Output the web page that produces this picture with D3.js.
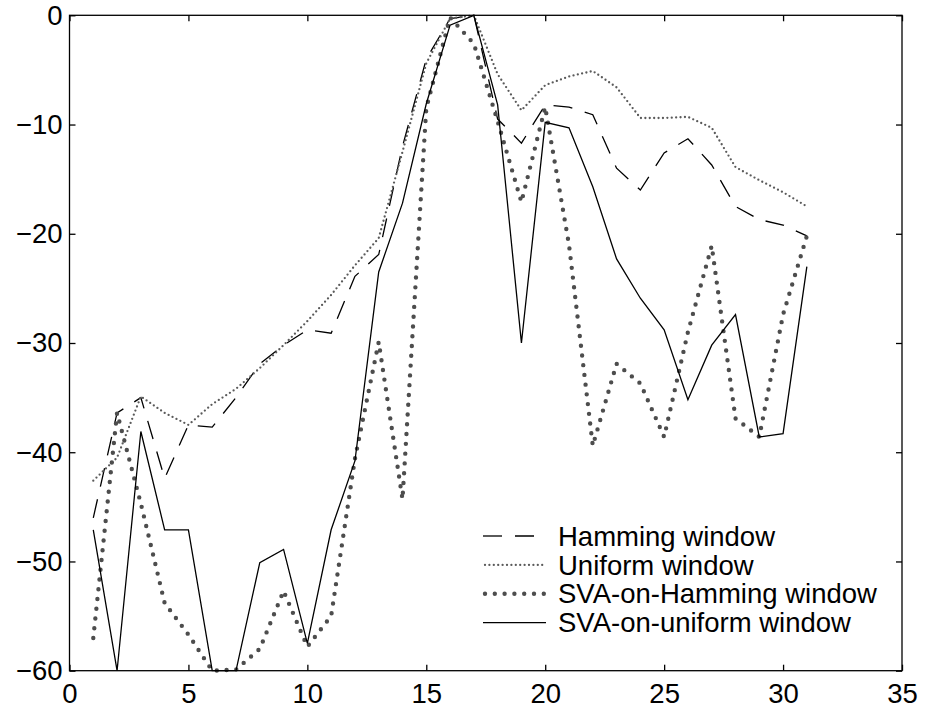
<!DOCTYPE html>
<html>
<head>
<meta charset="utf-8">
<script src="https://cdn.jsdelivr.net/npm/d3@7"></script>
<style>
  body { margin: 0; background: #fff; }
  svg text { font-family: "Liberation Sans", Arial, Helvetica, sans-serif; fill: #000; }
</style>
</head>
<body>
<script>
var width = 927, height = 713;

// sample index (bins 1..31)
var bins = [1,2,3,4,5,6,7,8,9,10,11,12,13,14,15,16,17,18,19,20,21,22,23,24,25,26,27,28,29,30,31];

// responses in dB
var hamming  = [-46, -36.4, -35, -42.4, -37.5, -37.7, -35, -31.9, -30.2, -28.8, -29.1, -23.9, -21.9, -12, -4, -0.3, 0,
                -9.5, -11.7, -8.2, -8.4, -9.1, -14, -16, -12.6, -11.3, -13.7, -17.5, -18.7, -19.2, -20.2];
var uniform  = [-42.6, -40.5, -34.9, -36.4, -37.5, -35.6, -34.2, -32.3, -30.2, -28, -25.6, -22.9, -20.4, -12.5, -4.4, -0.3, 0,
                -5.4, -8.7, -6.4, -5.6, -5.1, -6.6, -9.4, -9.4, -9.3, -10.3, -13.9, -15.1, -16.2, -17.5];
var svaHamming = [-57, -36.4, -44.7, -53.8, -56.7, -60, -59.9, -58, -52.7, -57.8, -55, -40.6, -29.9, -44.3, -8.5, -0.2, -2.6,
                -9.7, -17.1, -8.4, -21, -39.4, -31.9, -33.7, -38.6, -29, -21.1, -36.9, -38.6, -27.4, -20.2];
var svaUniform = [-47.1, -60, -38.1, -47.1, -47.1, -60, -60, -50.1, -48.9, -57.5, -47.1, -40.8, -23.5, -17.2, -8.1, -0.9, 0,
                -8.2, -30, -9.8, -10.3, -15.7, -22.3, -25.9, -28.8, -35.2, -30.2, -27.4, -38.6, -38.3, -23];

var xTicks = [0, 5, 10, 15, 20, 25, 30, 35];
var yTicks = [0, -10, -20, -30, -40, -50, -60];
var labels = ["Hamming window", "Uniform window", "SVA-on-Hamming window", "SVA-on-uniform window"];

window.onload = function(){
  var series = [
    {name: labels[0], values: hamming,    stroke: "#000",    width: 1.3, dash: "19,13", cap: "butt"},
    {name: labels[1], values: uniform,    stroke: "#5a5a5a", width: 2.3, dash: "0,4.4", cap: "round"},
    {name: labels[2], values: svaHamming, stroke: "#4d4d4d", width: 4.4, dash: "0,9.8", cap: "round"},
    {name: labels[3], values: svaUniform, stroke: "#000",    width: 1.3, dash: null,    cap: "butt"}
  ];

  var pl = 69.5, pr = 902, pt = 15.3, pb = 670.7;

  var x = d3.scaleLinear().domain([0, 35]).range([pl, pr]);
  var y = d3.scaleLinear().domain([-60, 0]).range([pb, pt]);

  var svg = d3.select("body").append("svg").attr("width", width).attr("height", height);

  var line = d3.line()
      .x(function(d, i){ return x(bins[i]); })
      .y(function(d){ return y(d); });

  svg.append("clipPath").attr("id", "plotclip")
      .append("rect").attr("x", pl - 3).attr("y", pt - 3)
      .attr("width", pr - pl + 6).attr("height", pb - pt + 6);

  svg.append("g").attr("clip-path", "url(#plotclip)")
    .selectAll("path.series")
    .data(series)
    .enter().append("path")
      .attr("class", "series")
      .attr("d", function(d){ return line(d.values); })
      .attr("fill", "none")
      .attr("stroke", function(d){ return d.stroke; })
      .attr("stroke-width", function(d){ return d.width; })
      .attr("stroke-dasharray", function(d){ return d.dash; })
      .attr("stroke-linecap", function(d){ return d.cap; })
      .attr("stroke-linejoin", "miter");

  // axes, ticks inward on all four sides
  var fs = "27.5px";
  var gx = svg.append("g").attr("transform", "translate(0," + pb + ")")
      .call(d3.axisBottom(x).tickValues(xTicks).tickSize(-6).tickPadding(13));
  var gxt = svg.append("g").attr("transform", "translate(0," + pt + ")")
      .call(d3.axisTop(x).tickValues(xTicks).tickSize(-6).tickFormat(""));
  var gy = svg.append("g").attr("transform", "translate(" + pl + ",0)")
      .call(d3.axisLeft(y).tickValues(yTicks).tickSize(-6).tickPadding(7));
  var gyr = svg.append("g").attr("transform", "translate(" + pr + ",0)")
      .call(d3.axisRight(y).tickValues(yTicks).tickSize(-6).tickFormat(""));

  [gx, gxt, gy, gyr].forEach(function(g){
    g.attr("font-family", null).attr("font-size", null);
    g.select(".domain").remove();
    g.selectAll(".tick line").attr("stroke", "#000").attr("stroke-width", 1.3);
    g.selectAll("text").style("font-size", fs).attr("fill", "#000");
  });

  svg.append("rect")
      .attr("x", pl).attr("y", pt)
      .attr("width", pr - pl).attr("height", pb - pt)
      .attr("fill", "none").attr("stroke", "#000").attr("stroke-width", 1.3);

  // legend (no box)
  var leg = svg.append("g").attr("transform", "translate(483,536)");
  var rows = leg.selectAll("g.row").data(series).enter().append("g")
      .attr("class", "row")
      .attr("transform", function(d, i){ return "translate(0," + (i * 28.9) + ")"; });

  rows.append("line")
      .attr("x1", function(d){ return d.cap === "round" ? 2 : 0; })
      .attr("x2", 63).attr("y1", 0).attr("y2", 0)
      .attr("stroke", function(d){ return d.stroke; })
      .attr("stroke-width", function(d){ return d.width; })
      .attr("stroke-dasharray", function(d){ return d.dash; })
      .attr("stroke-linecap", function(d){ return d.cap; });

  rows.append("text")
      .attr("x", 75).attr("y", 0).attr("dy", "0.35em")
      .style("font-size", fs)
      .text(function(d){ return d.name; });
};
</script>
</body>
</html>
